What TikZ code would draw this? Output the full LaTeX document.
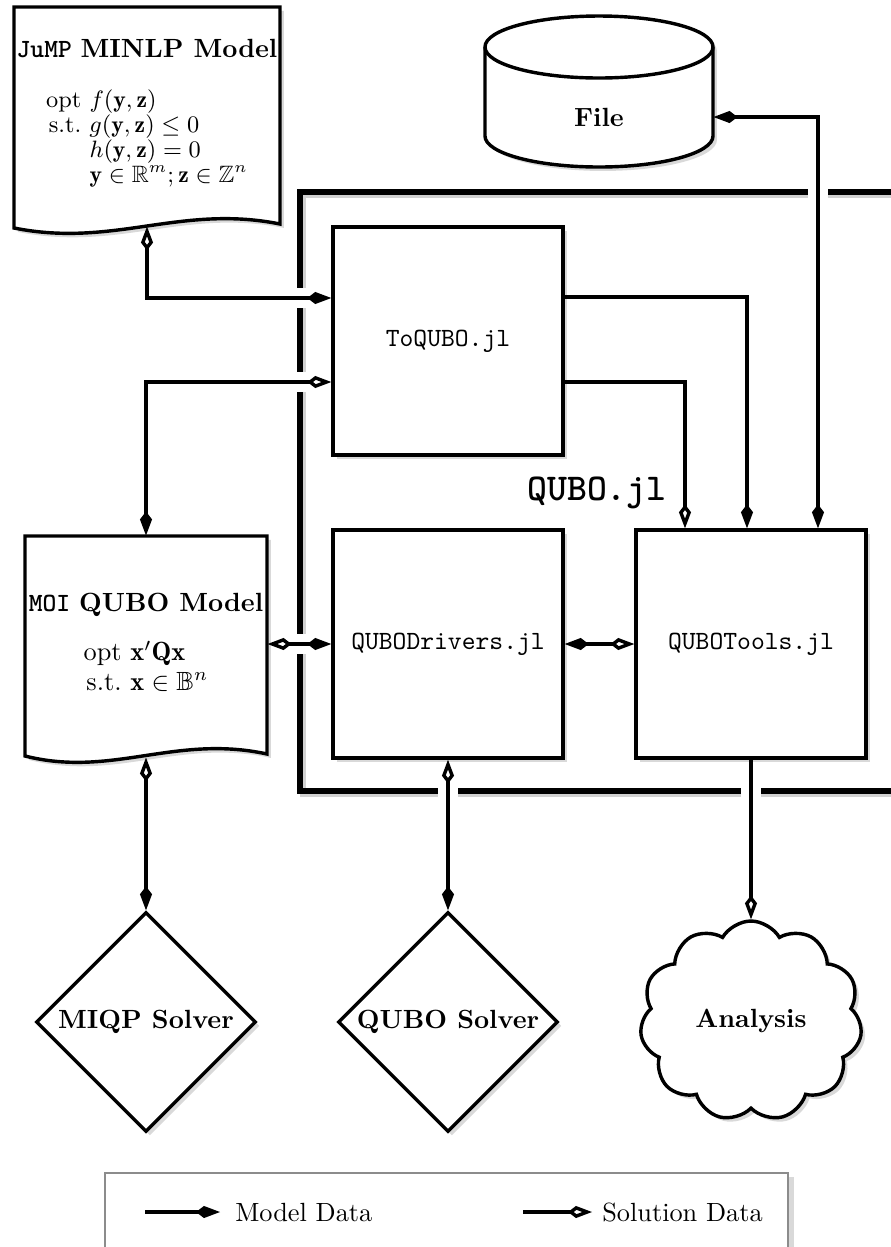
\documentclass[tikz,border=0pt]{standalone}
\usepackage{amsmath,amssymb}
\usepackage{fontspec}
\newfontfamily\ttbf{lmmonolt10-bold.otf}
\usetikzlibrary{arrows.meta,shapes.geometric,shapes.symbols,shadows,calc}
\pgfdeclarelayer{bg}
\pgfdeclarelayer{cut}
\pgfsetlayers{bg,cut,main}
\newcommand\pxu{0.38pt}
\newcommand\wire[2]{%
  \begin{pgfonlayer}{cut}\path[casing] #2;\end{pgfonlayer}%
  \draw[link,#1] #2;}
\tikzset{
  mtip/.tip={Kite[length=9.1pt,width=4.6pt,inset=3pt]},
  stip/.tip={Kite[length=9.1pt,width=4.6pt,inset=3pt,fill=white]},
  link/.style={line width=1.3pt},
  casing/.style={draw=white,line width=20*\pxu},
  softshadow/.style={drop shadow={shadow xshift=1.5pt,shadow yshift=-1.5pt,opacity=0.3}},
  module/.style={draw,line width=1.3pt,fill=white,softshadow,minimum width=230*\pxu,minimum height=228*\pxu,inner sep=0,font=\ttfamily},
  docshape/.style={draw,line width=1.3pt,fill=white,softshadow},
  holder/.style={inner sep=0},
  solver/.style={diamond,draw,line width=1.3pt,fill=white,softshadow,minimum width=220*\pxu,minimum height=220*\pxu,inner sep=0,font=\bfseries},
  store/.style={inner sep=0,font=\bfseries},
  frameline/.style={line width=2pt},
  legendbox/.style={draw=black!45,line width=1pt},
}
\begin{document}
\begin{tikzpicture}[x=\pxu,y=-\pxu]
\useasboundingbox (0,0) rectangle (891,1247);

% QUBO.jl frame
\begin{pgfonlayer}{bg}
  \draw[frameline,black!18] (893,195) -| (303,794) -- (893,794);
  \draw[frameline] (893,192) -| (300,791) -- (893,791);
\end{pgfonlayer}
\node[font=\Large\ttbf] (qubojl) at (597,493) {QUBO.jl};

% JuMP document
\draw[docshape] (14,7) -- (280,7) -- (280,224) .. controls (180,204) and (114,248) .. (14,228) -- cycle;
\node[holder,minimum width=266*\pxu,minimum height=219*\pxu] (jump) at (147,116.5) {};
\node[anchor=north,align=center] (jumptxt) at (147,30) {%
  {\ttbf JuMP} \textbf{MINLP Model}\\[11pt]
  \small\renewcommand\arraystretch{0.86}%
  $\begin{array}{@{}r@{\ }l@{}}
    \mathrm{opt} & f(\mathbf{y},\mathbf{z})\\
    \mathrm{s.t.} & g(\mathbf{y},\mathbf{z})\le 0\\
     & h(\mathbf{y},\mathbf{z})=0\\
     & \mathbf{y}\in\mathbb{R}^m;\mathbf{z}\in\mathbb{Z}^n
  \end{array}$};

% MOI document
\draw[docshape] (25,536) -- (267,536) -- (267,754) .. controls (175,734) and (112,778) .. (25,756) -- cycle;
\node[holder,minimum width=242*\pxu,minimum height=221*\pxu] (moi) at (146,646.5) {};
\node[anchor=north,align=center] (moitxt) at (146,584) {%
  {\ttbf MOI} \textbf{QUBO Model}\\[8pt]
  \renewcommand\arraystretch{0.93}%
  $\begin{array}{@{}r@{\ }l@{}}
    \mathrm{opt} & \mathbf{x}'\mathbf{Q}\mathbf{x}\\
    \mathrm{s.t.} & \mathbf{x}\in\mathbb{B}^n
  \end{array}$};

% File cylinder
\draw[docshape] (485,47) -- (485,136) .. controls (485,153.1) and (536.1,167) .. (599,167)
  .. controls (661.9,167) and (713,153.1) .. (713,136) -- (713,47)
  .. controls (713,29.9) and (661.9,16) .. (599,16)
  .. controls (536.1,16) and (485,29.9) .. (485,47) -- cycle;
\draw[line width=1.3pt] (485,47) .. controls (485,64.1) and (536.1,78) .. (599,78)
  .. controls (661.9,78) and (713,64.1) .. (713,47);
\node[store,minimum width=228*\pxu] (file) at (599,117) {File};

% modules
\node[module] (toqubo) at (448,341) {ToQUBO.jl};
\node[module] (drivers) at (448,644) {QUBODrivers.jl};
\node[module] (tools) at (751,644) {QUBOTools.jl};

% solvers and analysis
\node[solver] (miqp) at (146,1022) {MIQP Solver};
\node[solver] (qubos) at (448,1022) {QUBO Solver};
\node[cloud,cloud puffs=11,cloud puff arc=120,cloud ignores aspect,draw,line width=1.3pt,fill=white,softshadow,
  minimum width=222*\pxu,minimum height=200*\pxu,font=\bfseries] (analysis) at (751,1021) {Analysis};

% connectors
\wire{stip-mtip}{(jump.south) |- ($(toqubo.west)+(0,-43)$)}
\wire{mtip-stip}{(moi.north) |- ($(toqubo.west)+(0,41)$)}
\wire{-mtip}{($(toqubo.east)+(0,-44)$) -| ($(tools.north)+(-4,0)$)}
\wire{-stip}{($(toqubo.east)+(0,41)$) -| ($(tools.north)+(-66,0)$)}
\wire{mtip-mtip}{(file.east) -| ($(tools.north)+(67,0)$)}
\wire{stip-mtip}{(moi.east |- drivers.west) -- (drivers.west)}
\wire{mtip-stip}{(drivers.east) -- (tools.west)}
\wire{stip-mtip}{(moi.south) -- (miqp.north)}
\wire{stip-mtip}{(drivers.south) -- (qubos.north)}
\wire{-stip}{(tools.south) -- (analysis.north)}

% legend
\draw[black!15,line width=2pt] (791,1177) -- (791,1250);
\draw[legendbox] (105,1250) |- (788,1173) -- (788,1250);
\coordinate (m1) at (145,1212);
\coordinate (m2) at (220,1212);
\coordinate (s1) at (523,1212);
\coordinate (s2) at (592,1212);
\draw[link,-mtip] (m1) -- (m2);
\draw[link,-stip] (s1) -- (s2);
\node[anchor=west] (mtext) at (226,1212) {Model Data};
\node[anchor=west] (stext) at (593,1212) {Solution Data};
\end{tikzpicture}
\end{document}
